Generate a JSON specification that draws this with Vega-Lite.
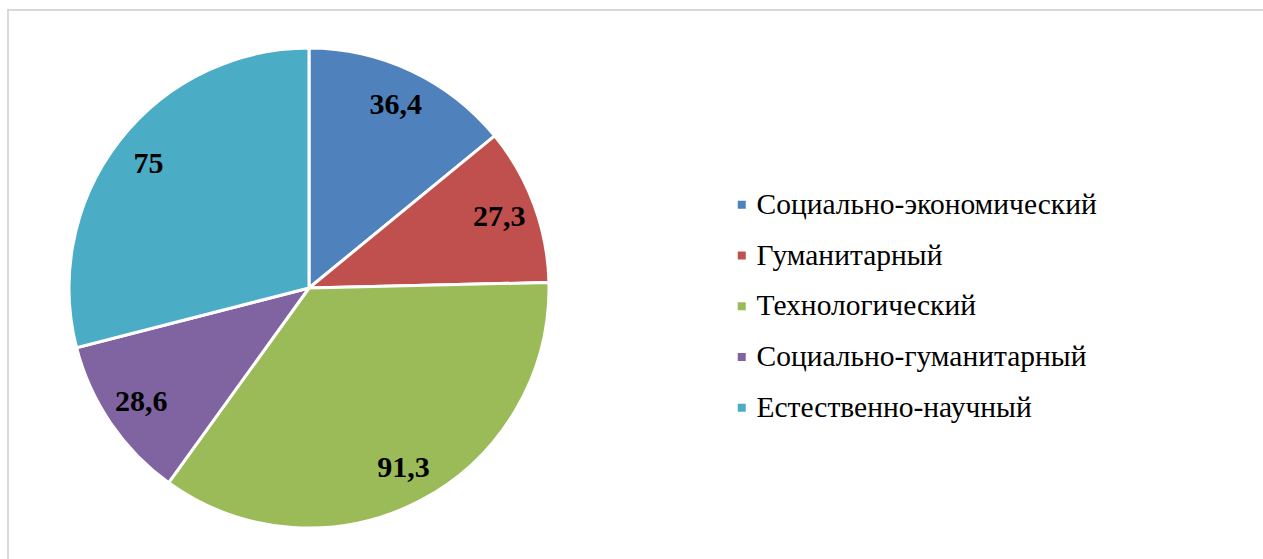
{
  "$schema": "https://vega.github.io/schema/vega-lite/v6.json",
  "width": 1263,
  "height": 559,
  "autosize": {"type": "fit", "contains": "padding"},
  "padding": {"left": 8, "top": 10, "right": -4, "bottom": -4},
  "background": "white",
  "config": {
    "view": {"stroke": "#d9d9d9", "strokeWidth": 2},
    "font": "Liberation Serif"
  },
  "data": {
    "values": [
      {"i": 1, "category": "Социально-экономический", "value": 36.4, "label": "36,4"},
      {"i": 2, "category": "Гуманитарный", "value": 27.3, "label": "27,3"},
      {"i": 3, "category": "Технологический", "value": 91.3, "label": "91,3"},
      {"i": 4, "category": "Социально-гуманитарный", "value": 28.6, "label": "28,6"},
      {"i": 5, "category": "Естественно-научный", "value": 75, "label": "75"}
    ]
  },
  "encoding": {
    "theta": {"field": "value", "type": "quantitative", "stack": true},
    "order": {"field": "i", "type": "quantitative"},
    "x": {"value": 301},
    "y": {"value": 278}
  },
  "layer": [
    {
      "mark": {"type": "arc", "outerRadius": 240, "stroke": "white", "strokeWidth": 3},
      "encoding": {
        "color": {
          "field": "category",
          "type": "nominal",
          "sort": null,
          "scale": {
            "domain": ["Социально-экономический", "Гуманитарный", "Технологический", "Социально-гуманитарный", "Естественно-научный"],
            "range": ["#4F81BD", "#C0504D", "#9BBB59", "#8064A2", "#4BACC6"]
          },
          "legend": {
            "title": null,
            "orient": "none",
            "legendX": 719,
            "legendY": 180,
            "symbolType": "square",
            "symbolSize": 64,
            "symbolStrokeWidth": 0,
            "labelFont": "Liberation Serif",
            "labelFontSize": 29.5,
            "labelColor": "black",
            "labelOffset": 0,
            "labelLimit": 0,
            "rowPadding": 19.75,
            "labelBaseline": "middle"
          }
        }
      }
    },
    {
      "mark": {"type": "text", "radius": 203, "fontSize": 30, "fontWeight": "bold", "font": "Liberation Serif", "color": "black", "baseline": "middle", "align": "center"},
      "encoding": {
        "text": {"field": "label", "type": "nominal"}
      }
    }
  ]
}
